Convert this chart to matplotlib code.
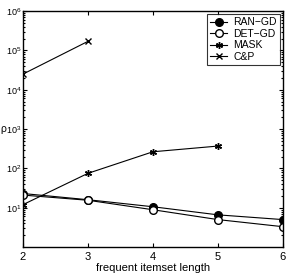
import matplotlib
matplotlib.use('Agg')
import matplotlib.pyplot as plt

plt.rcParams['font.family'] = ['Liberation Sans', 'DejaVu Sans']

lengths_gd = [2, 3, 4, 5, 6]
ran_gd = [23, 16, 10.6, 6.6, 5.0]
det_gd = [21, 15.5, 8.9, 5.0, 3.3]
lengths_mask = [2, 3, 4, 5]
mask = [12, 75, 265, 370]
lengths_cp = [2, 3]
cp = [25000, 170000]


def main():
    fig = plt.figure(figsize=(2.91, 2.77), dpi=100)
    ax = fig.add_axes([0.079, 0.108, 0.893, 0.852])

    ax.plot(lengths_gd, ran_gd, color='black', linewidth=0.8, marker='o',
            markersize=5.5, label='RAN\u2212GD')
    ax.plot(lengths_gd, det_gd, color='black', linewidth=0.8, marker='o',
            markersize=5.5, markerfacecolor='white', label='DET\u2212GD')
    ax.plot(lengths_mask, mask, color='black', linewidth=0.8, marker=(6, 2, 0),
            markersize=5, label='MASK')
    ax.plot(lengths_cp, cp, color='black', linewidth=0.8, marker='x',
            markersize=4, label='C&P')

    ax.set_yscale('log')
    ax.set_xlim(2, 6)
    ax.set_ylim(1, 1e6)
    ax.set_xticks([2, 3, 4, 5, 6])
    ax.set_yticks([1e1, 1e2, 1e3, 1e4, 1e5, 1e6])
    ax.tick_params(which='both', direction='in', top=True, right=True,
                   labelsize=8, length=3, width=0.8)
    ax.tick_params(axis='y', labelsize=6.5, pad=1)
    ax.tick_params(which='minor', length=1.5)
    for s in ax.spines.values():
        s.set_linewidth(1.0)

    ax.set_xlabel('frequent itemset length', fontsize=8, labelpad=1)
    ax.set_ylabel('\u03c1', fontsize=7.5, rotation=0, labelpad=0,
                  ha='left', va='center')
    ax.yaxis.set_label_coords(0.0, 0.535, transform=fig.transFigure)

    leg = ax.legend(loc='upper right', fontsize=7.5, frameon=True, fancybox=False,
                    edgecolor='black', handlelength=1.6, borderpad=0.3,
                    labelspacing=0.15, handletextpad=0.6, borderaxespad=0.3)
    leg.get_frame().set_linewidth(0.8)

    plt.savefig('out.png', dpi=100)
    plt.close()


if __name__ == '__main__':
    main()
